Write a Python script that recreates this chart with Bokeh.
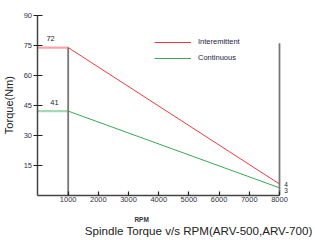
import math
from bokeh.plotting import figure
from bokeh.models import Range1d, FixedTicker, Label, Legend, LegendItem
from bokeh.embed import file_html
from bokeh.resources import INLINE

# data
rpm = [0, 1000, 8000]
intermittent = [73.8, 73.8, 5.5]
continuous = [42.0, 42.0, 3.6]
limit_x = [1000, 8000]
limit_top = [73.8, 76.0]
y_ticks = [15, 30, 45, 60, 75, 90]
x_ticks = [1000, 2000, 3000, 4000, 5000, 6000, 7000, 8000]
point_labels = ["72", "41", "4", "3"]
point_x = [280, 410, 8160, 8160]
point_y = [77.0, 45.2, 4.0, 1.2]

FONT = "Liberation Sans"
RED = "#ec3a44"
GREEN = "#3aa85a"

p = figure(width=315, height=240,
           x_range=Range1d(-1242, 9193), y_range=Range1d(-22.77, 97.36),
           output_backend="svg", toolbar_location=None,
           min_border=0)
p.outline_line_color = None
p.xgrid.visible = False
p.ygrid.visible = False

# axes (drawn at data zero, limited to data extent)
p.yaxis.ticker = FixedTicker(ticks=y_ticks)
p.xaxis.ticker = FixedTicker(ticks=x_ticks)
p.xaxis.fixed_location = 0
p.yaxis.fixed_location = 0
p.xaxis.bounds = (0, 8000)
p.yaxis.bounds = (0, 90)
for ax in (p.xaxis, p.yaxis):
    ax.axis_line_color = "#444444"
    ax.axis_line_width = 1.5
    ax.major_tick_line_color = "#222222"
    ax.major_tick_line_width = 1.2
    ax.minor_tick_line_color = None
    ax.major_label_text_font = FONT
    ax.major_label_text_font_size = "7.5px"
    ax.major_label_text_color = "#333344"
    ax.major_label_standoff = 2
p.yaxis.major_tick_in = 5
p.yaxis.major_tick_out = 4
p.xaxis.major_tick_in = 4
p.xaxis.major_tick_out = 0

# flat segments (lighter, thicker)
p.line(rpm[:2], intermittent[:2], line_color=RED, line_alpha=0.45, line_width=2.2)
p.line(rpm[:2], continuous[:2], line_color=GREEN, line_alpha=0.45, line_width=2.2)
# sloped segments
r_red = p.line(rpm[1:], intermittent[1:], line_color=RED, line_width=1)
r_green = p.line(rpm[1:], continuous[1:], line_color=GREEN, line_width=1)

# limit verticals
p.segment(x0=limit_x, y0=[0, 0], x1=limit_x, y1=limit_top, line_color="#777777", line_width=1.8)

legend = Legend(items=[LegendItem(label="Interemittent", renderers=[r_red]),
                       LegendItem(label="Continuous", renderers=[r_green])],
                location=(154, 178), orientation="vertical",
                glyph_width=37, glyph_height=6, label_height=6, label_standoff=7,
                spacing=7, padding=0, margin=0,
                label_text_font=FONT, label_text_font_size="7.5px", label_text_color="#222244",
                border_line_color=None, background_fill_alpha=0)
p.add_layout(legend)

for t, x, y in zip(point_labels, point_x, point_y):
    p.add_layout(Label(x=x, y=y, text=t, text_font=FONT,
                       text_font_size="7.5px" if t in ("72", "41") else "6.5px",
                       text_color="#222222"))

p.add_layout(Label(x=-961, y=45, text="Torque(Nm)", angle=math.pi / 2, text_align="center",
                   text_baseline="middle", text_font=FONT, text_font_size="11px",
                   text_color="#222222"))
p.add_layout(Label(x=3433, y=-14.2, text="RPM", text_align="center", text_font=FONT,
                   text_font_size="6.5px", text_font_style="bold", text_color="#333344"))
p.add_layout(Label(x=9093, y=-20.8, text="Spindle Torque v/s RPM(ARV-500,ARV-700)",
                   text_align="right", text_font=FONT, text_font_size="11.6px",
                   text_color="#222222"))

open("out.html", "w").write(file_html(p, INLINE))
